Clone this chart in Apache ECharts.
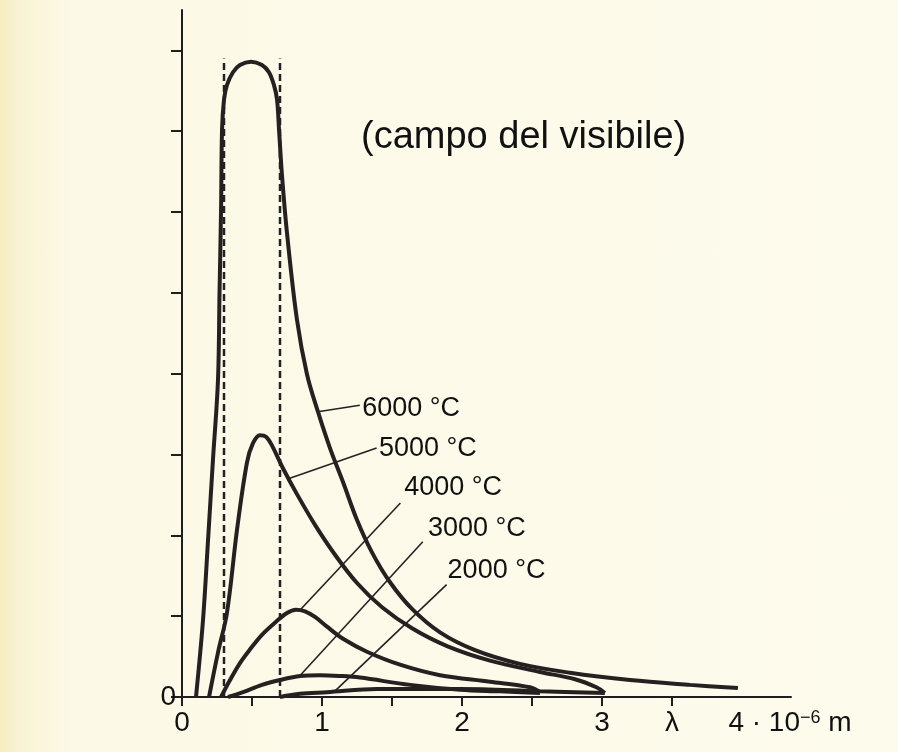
<!DOCTYPE html>
<html>
<head>
<meta charset="utf-8">
<script src="https://cdn.jsdelivr.net/npm/echarts@6/dist/echarts.min.js"></script>
<style>
html,body{margin:0;padding:0;}
body{width:898px;height:752px;background:linear-gradient(to right,#f5ecc0 0px,#f9f3d6 22px,#fcf9e6 70px,#fdfbec 100%);}
#c{width:898px;height:752px;}
</style>
</head>
<body>
<div id="c"></div>
<script>
// wavelength in 10^-6 m, intensity in arbitrary tick units
const curve6000 = [[0.10,0],[0.15,0.95],[0.186,1.94],[0.221,2.93],[0.257,3.92],[0.268,5.0],[0.279,6.03],[0.286,7.02],[0.30,7.39],[0.321,7.57],[0.364,7.73],[0.414,7.82],[0.493,7.86],[0.571,7.82],[0.621,7.73],[0.657,7.57],[0.679,7.39],[0.693,7.02],[0.714,6.46],[0.75,5.74],[0.821,4.67],[0.893,3.99],[0.971,3.53],[1.057,3.08],[1.15,2.66],[1.25,2.19],[1.357,1.79],[1.486,1.42],[1.643,1.09],[1.843,0.80],[2.093,0.58],[2.414,0.41],[2.771,0.30],[3.2,0.21],[3.629,0.15],[3.971,0.11]];
const curve5000 = [[0.193,0],[0.257,0.55],[0.321,1.04],[0.393,2.07],[0.464,2.90],[0.507,3.14],[0.557,3.24],[0.60,3.22],[0.643,3.11],[0.721,2.83],[0.821,2.51],[0.95,2.13],[1.093,1.76],[1.25,1.41],[1.429,1.11],[1.643,0.85],[1.893,0.63],[2.2,0.45],[2.557,0.31],[2.807,0.22],[2.96,0.12],[3.02,0.05]];
const curve4000 = [[0.279,0],[0.343,0.21],[0.414,0.42],[0.486,0.59],[0.571,0.77],[0.664,0.92],[0.75,1.04],[0.814,1.08],[0.879,1.06],[0.95,0.99],[1.036,0.87],[1.15,0.72],[1.321,0.56],[1.557,0.40],[1.843,0.27],[2.2,0.19],[2.486,0.12],[2.557,0.06]];
const curve3000 = [[0.329,0],[0.436,0.06],[0.571,0.15],[0.70,0.21],[0.843,0.26],[0.986,0.27],[1.129,0.26],[1.271,0.24],[1.629,0.15],[1.986,0.09],[2.271,0.07],[2.557,0.05]];
const curve2000 = [[0.70,0],[0.843,0.04],[1.036,0.06],[1.393,0.10],[1.986,0.10],[2.557,0.07],[3.02,0.05]];
const visibleBounds = [0.3, 0.7];
const visibleTop = 7.9;
const curveNames = ['6000 °C','5000 °C','4000 °C','3000 °C','2000 °C'];
const leaderFrom = [[0.971,3.53],[0.76,2.70],[0.84,1.07],[0.84,0.26],[1.09,0.07]];
const leaderTo = [[1.27,3.61],[1.39,3.08],[1.56,2.40],[1.72,1.92],[1.89,1.39]];
const labelAt = [[1.28,3.57],[1.40,3.08],[1.58,2.59],[1.75,2.09],[1.89,1.57]];
const xTicks = [0,0.5,1,1.5,2,2.5,3,3.5];
const xLabelValues = [0,1,2,3,3.5,4];
const xLabelTexts = ['0','1','2','3','λ','{b|4 · 10}{s|−6}{a| m}'];
const yTicks = [0,1,2,3,4,5,6,7,8];
const visibleText = '(campo del visibile)';

const ink = '#272020';
const font = '"Liberation Sans", Arial, Helvetica, sans-serif';
const curves = [curve6000, curve5000, curve4000, curve3000, curve2000];

const series = [];
curves.forEach((d,i)=>{
  series.push({type:'line', data:d, smooth:0.35, symbol:'none', z:3,
    lineStyle:{color:ink, width:4}});
});
visibleBounds.forEach(x=>{
  series.push({type:'line', data:[[x,0],[x,visibleTop]], symbol:'none', z:2,
    lineStyle:{color:'#222', width:2.5, type:[7,4]}});
});
leaderFrom.forEach((p,i)=>{
  series.push({type:'line', data:[p, leaderTo[i]], symbol:'none', z:2,
    lineStyle:{color:'#222', width:1.6}});
});
series.push({type:'scatter', symbolSize:0, z:4,
  itemStyle:{opacity:1},
  data: labelAt.map((p,i)=>({name:curveNames[i], value:p})),
  label:{show:true, position:'right', distance:1, formatter:'{b}', opacity:1,
    fontFamily:font, fontSize:27, color:'#111'}});

const chart = echarts.init(document.getElementById('c'), null, {renderer:'canvas'});
chart.setOption({
  backgroundColor:'transparent',
  animation:false,
  title:{text:visibleText, left:356, top:114,
    textStyle:{fontFamily:font, fontSize:38, fontWeight:'normal', color:'#111'}},
  grid:{left:182, right:107, top:10, bottom:55},
  xAxis:{type:'value', min:0, max:4.35, interval:0.5,
    splitLine:{show:false},
    axisLine:{onZero:false, lineStyle:{color:'#1e1e1e', width:2}},
    axisTick:{customValues:xTicks, length:9, lineStyle:{color:'#1e1e1e', width:2}},
    axisLabel:{customValues:xLabelValues, margin:12, fontFamily:font, fontSize:28, color:'#111',
      formatter:(v)=>{const k=xLabelValues.findIndex(t=>Math.abs(t-v)<1e-6); return k>=0?xLabelTexts[k]:'';},
      rich:{a:{fontFamily:font, fontSize:28, color:'#111'},
            b:{fontFamily:font, fontSize:28, color:'#111', padding:[0,0,0,96]},
            s:{fontFamily:font, fontSize:18, color:'#111', verticalAlign:'top'}}
    }
  },
  yAxis:{type:'value', min:0, max:8.5, interval:1,
    splitLine:{show:false},
    axisLine:{lineStyle:{color:'#1e1e1e', width:2}},
    axisTick:{customValues:yTicks, length:11, lineStyle:{color:'#1e1e1e', width:2}},
    axisLabel:{margin:6, fontFamily:font, fontSize:28, color:'#111', padding:[0,0,8,0],
      formatter:(v)=> v===0?'0':''}
  },
  series:series
});
</script>
</body>
</html>
